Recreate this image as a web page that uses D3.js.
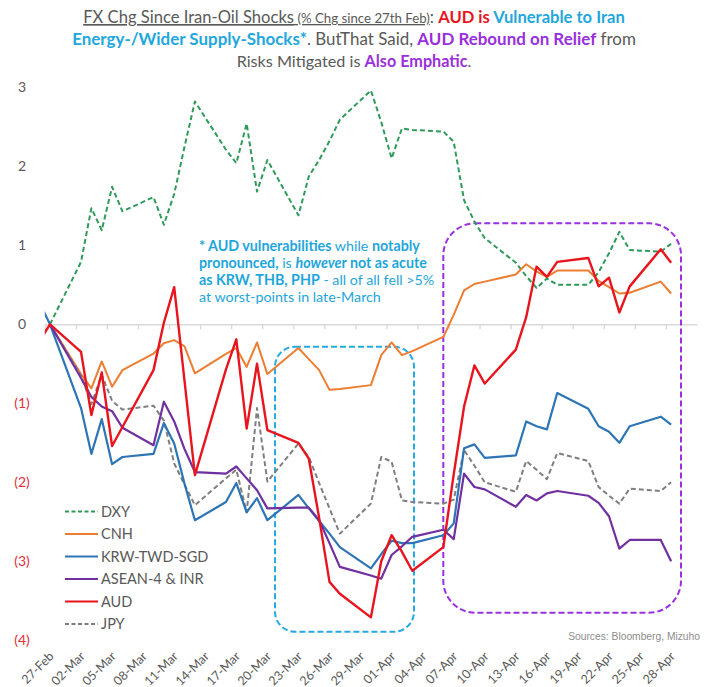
<!DOCTYPE html>
<html>
<head>
<meta charset="utf-8">
<script src="https://cdn.jsdelivr.net/npm/d3@7"></script>
<style>
  body { margin: 0; background: #fff; }
  svg { display: block; font-family: Lato, 'Open Sans', sans-serif; }
</style>
</head>
<body>
<div id="main"></div>
<script>
// trading days (26-Feb only shows as a clipped stub at the left edge)
const dates = ['2026-02-26','2026-02-27',
  '2026-03-02','2026-03-03','2026-03-04','2026-03-05','2026-03-06',
  '2026-03-09','2026-03-10','2026-03-11','2026-03-12','2026-03-13',
  '2026-03-16','2026-03-17','2026-03-18','2026-03-19','2026-03-20',
  '2026-03-23','2026-03-24','2026-03-25','2026-03-26','2026-03-27',
  '2026-03-30','2026-03-31','2026-04-01','2026-04-02','2026-04-03',
  '2026-04-06','2026-04-07','2026-04-08','2026-04-09','2026-04-10',
  '2026-04-13','2026-04-14','2026-04-15','2026-04-16','2026-04-17',
  '2026-04-20','2026-04-21','2026-04-22','2026-04-23','2026-04-24',
  '2026-04-27','2026-04-28']

const dxy = [null, 0,
  0.79, 1.47, 1.19, 1.74, 1.43,
  1.61, 1.26, 1.65, 2.25, 2.82,
  2.21, 2.04, 2.54, 1.68, 2.08,
  1.38, 1.87, 2.08, 2.32, 2.59,
  2.96, 2.56, 2.10, 2.48, 2.46,
  2.44, 2.31, 1.57, 1.30, 1.09,
  0.78, 0.61, 0.46, 0.58, 0.50,
  0.50, 0.66, 0.90, 1.17, 0.94,
  0.92, 1.02]

const cnh = [null, 0,
  -0.63, -0.81, -0.47, -0.79, -0.58,
  -0.37, -0.24, -0.20, -0.28, -0.62,
  -0.375, -0.30, -0.54, -0.23, -0.63,
  -0.30, -0.44, -0.58, -0.83, -0.82,
  -0.77, -0.39, -0.23, -0.39, -0.34,
  -0.16, 0.12, 0.43, 0.51, 0.54,
  0.63, 0.76, 0.67, 0.60, 0.68,
  0.68, 0.55, 0.47, 0.39, 0.40,
  0.54, 0.39]

const krwTwdSgd = [0.27, 0,
  -1.06, -1.64, -1.20, -1.77, -1.68,
  -1.64, -1.25, -1.51, -2.02, -2.48,
  -2.25, -2.01, -2.38, -2.20, -2.48,
  -2.16, -2.33, -2.49, -2.65, -2.82,
  -3.09, -2.91, -2.74, -2.77, -2.77,
  -2.67, -2.52, -1.57, -1.52, -1.69,
  -1.66, -1.23, -1.29, -1.33, -0.87,
  -1.07, -1.29, -1.36, -1.50, -1.29,
  -1.17, -1.27]

const asean4Inr = [null, 0,
  -0.68, -0.92, -1.04, -1.10, -1.31,
  -1.53, -0.98, -1.23, -1.58, -1.87,
  -1.89, -1.80, -1.95, -2.10, -2.33,
  -2.32, -2.32, -2.48, -2.77, -3.07,
  -3.18, -3.22, -2.92, -2.81, -2.69,
  -2.60, -2.72, -1.89, -2.06, -2.09,
  -2.31, -2.16, -2.23, -2.14, -2.11,
  -2.17, -2.26, -2.43, -2.84, -2.73,
  -2.73, -3.00]

const aud = [-0.21, 0,
  -0.35, -1.15, -0.61, -1.54, -1.30,
  -0.58, 0.02, 0.47, -0.72, -1.91,
  -0.57, -0.19, -1.32, -0.50, -1.34,
  -1.50, -1.70, -2.45, -3.26, -3.41,
  -3.71, -3.00, -2.67, -2.88, -3.12,
  -2.82, -1.90, -1.04, -0.52, -0.75,
  -0.32, 0.09, 0.73, 0.60, 0.79,
  0.84, 0.48, 0.59, 0.15, 0.48,
  0.95, 0.78]

const jpy = [null, 0,
  -0.65, -1.01, -0.64, -0.97, -1.08,
  -1.03, -1.22, -1.76, -2.03, -2.29,
  -1.95, -1.84, -2.38, -1.06, -1.99,
  -1.51, -1.68, -2.01, -2.33, -2.65,
  -2.27, -1.68, -1.74, -2.23, -2.25,
  -2.27, -2.22, -1.59, -1.79, -2.00,
  -2.12, -1.73, -1.84, -1.96, -1.63,
  -1.73, -2.06, -2.17, -2.27, -2.08,
  -2.11, -2.00]

const seriesNames = ['DXY', 'CNH', 'KRW-TWD-SGD', 'ASEAN-4 & INR', 'AUD', 'JPY']
const seriesValues = [dxy, cnh, krwTwdSgd, asean4Inr, aud, jpy]

const xTickLabels = ['27-Feb','02-Mar','05-Mar','08-Mar','11-Mar','14-Mar','17-Mar','20-Mar',
  '23-Mar','26-Mar','29-Mar','01-Apr','04-Apr','07-Apr','10-Apr','13-Apr','16-Apr',
  '19-Apr','22-Apr','25-Apr','28-Apr']
const yTickValues = [-4, -3, -2, -1, 0, 1, 2, 3]

// styles for each series, same order as seriesNames
const colors = ['#2f9a5a', '#ed7d31', '#2e75b6', '#7030a0', '#e8141e', '#7f7f7f']
const dashes = ['5,3', null, null, null, null, '5,3']
const widths = [2, 2, 2.2, 2.2, 2.4, 2]

const w = 712
const h = 687

const parseDay = d3.timeParse('%Y-%m-%d')
const parseLabel = d3.timeParse('%d-%b-%Y')
const mid = d => d3.timeHour.offset(d, 12)     // points sit in the middle of their day

const svg = d3.select('#main').append('svg').attr('width', w).attr('height', h)

const x = d3.scaleTime()
    .domain([parseDay('2026-02-27'), parseDay('2026-05-01')])
    .range([44.8, 697])

const y = d3.scaleLinear()
    .domain([-4, 3])
    .range([640.3, 87.3])

const tickDates = xTickLabels.map(s => parseLabel(s + '-2026'))

// zero line with small ticks
svg.append('g')
    .attr('transform', 'translate(0,' + y(0) + ')')
    .call(d3.axisBottom(x).tickValues(tickDates).tickSize(5).tickSizeOuter(0).tickFormat(''))
    .call(g => g.selectAll('path, line').attr('stroke', '#d9d9d9').attr('stroke-width', 1.4))

// date labels along the bottom
svg.append('g')
    .attr('transform', 'translate(0,654)')
    .call(d3.axisBottom(x).tickValues(tickDates.map(mid)).tickSize(0).tickFormat((d, i) => xTickLabels[i]))
    .call(g => g.select('.domain').remove())
    .call(g => g.selectAll('text')
        .attr('x', 0).attr('y', 0).attr('dy', '0.35em')
        .attr('text-anchor', 'end')
        .attr('transform', 'translate(1,0) rotate(-45)')
        .attr('fill', '#595959')
        .style('font-size', '12.5px')
        .style('font-family', 'Lato, sans-serif'))

// y labels, negatives in brackets and red
svg.append('g')
    .attr('transform', 'translate(22,0)')
    .call(d3.axisLeft(y).tickValues(yTickValues).tickSize(0).tickFormat(v => v < 0 ? '(' + (-v) + ')' : v))
    .call(g => g.select('.domain').remove())
    .call(g => g.selectAll('text')
        .attr('x', 0)
        .attr('text-anchor', 'middle')
        .attr('fill', v => v < 0 ? '#e0303a' : '#595959')
        .style('font-size', '14px')
        .style('font-family', 'Lato, sans-serif'))

// annotation boxes
svg.append('rect')
    .attr('x', 275).attr('y', 346.7).attr('width', 139).attr('height', 285).attr('rx', 20)
    .attr('fill', 'none').attr('stroke', '#27a9e1').attr('stroke-width', 2).attr('stroke-dasharray', '6,3')

svg.append('rect')
    .attr('x', 443.3).attr('y', 223.3).attr('width', 237.7).attr('height', 389.4).attr('rx', 32)
    .attr('fill', 'none').attr('stroke', '#9b30e0').attr('stroke-width', 2).attr('stroke-dasharray', '6,3')

// lines
svg.append('clipPath').attr('id', 'plot-clip')
    .append('rect').attr('x', 44.8).attr('y', 0).attr('width', 653).attr('height', h)

const line = d3.line()
    .defined(d => d.v != null)
    .x(d => x(mid(parseDay(d.date))))
    .y(d => y(d.v))

const drawOrder = [0, 1, 5, 2, 3, 4]     // AUD on top
drawOrder.forEach(i => {
    const pts = dates.map((date, j) => ({ date: date, v: seriesValues[i][j] }))
    svg.append('path')
        .datum(pts)
        .attr('clip-path', 'url(#plot-clip)')
        .attr('d', line)
        .attr('fill', 'none')
        .attr('stroke', colors[i])
        .attr('stroke-width', widths[i])
        .attr('stroke-linejoin', 'round')
        .attr('stroke-dasharray', dashes[i])
})

// legend
const legend = svg.append('g').attr('transform', 'translate(65,511.5)')
seriesNames.forEach((name, i) => {
    const row = legend.append('g').attr('transform', 'translate(0,' + (i * 22.5) + ')')
    row.append('line')
        .attr('x1', 0).attr('x2', 33).attr('y1', 0).attr('y2', 0)
        .attr('stroke', colors[i]).attr('stroke-width', 2.2)
        .attr('stroke-dasharray', dashes[i] ? '4,2.5' : null)
    row.append('text')
        .attr('x', 36).attr('dy', '0.35em')
        .attr('fill', '#595959')
        .style('font-size', '14.5px')
        .text(name)
})

// helper: scale a text's font so it spans the wanted width
function fitWidth(textSel, target) {
    const size = parseFloat(textSel.style('font-size'))
    const len = textSel.node().getComputedTextLength()
    textSel.style('font-size', (size * target / len) + 'px')
}

// title
const grey = '#595959', red = '#e8141e', cyan = '#22a7dd', purple = '#9a2fdc'
const titleLines = [
    [['FX Chg Since Iran-Oil Shocks', grey, 'normal', 'underline'],
     [' (% Chg since 27th Feb)', grey, 'normal', 'underline', '0.8em'],
     [': ', grey, 'normal'],
     ['AUD is', red, 'bold'],
     [' Vulnerable to Iran', cyan, 'bold']],
    [['Energy-/Wider Supply-Shocks*', cyan, 'bold'],
     ['. ButThat Said, ', grey, 'normal'],
     ['AUD Rebound on Relief', purple, 'bold'],
     [' from', grey, 'normal']],
    [['Risks Mitigated is ', grey, 'normal'],
     ['Also Emphatic', purple, 'bold'],
     ['.', grey, 'normal']]
]
const titleWidths = [542, 564, 235]
titleLines.forEach((parts, i) => {
    const t = svg.append('text')
        .attr('x', 354).attr('y', 23 + i * 22)
        .attr('text-anchor', 'middle')
        .style('font-size', '15px')
    parts.forEach(p => {
        t.append('tspan')
            .attr('fill', p[1])
            .attr('font-weight', p[2])
            .attr('text-decoration', p[3] || null)
            .attr('font-size', p[4] || null)
            .text(p[0])
    })
    fitWidth(t, titleWidths[i])
})

// note inside the chart
const noteLines = [
    [['* AUD vulnerabilities', 'bold'], [' while ', 'normal'], ['notably', 'bold']],
    [['pronounced,', 'bold'], ['  is ', 'normal'], ['howeve', 'bold', 'italic'], ['r not as acute', 'bold']],
    [['as KRW, THB, PHP', 'bold'], [' - all of all fell >5%', 'normal']],
    [['at worst-points in late-March', 'normal']]
]
const noteTexts = noteLines.map((parts, i) => {
    const t = svg.append('text')
        .attr('x', 199).attr('y', 251 + i * 17)
        .attr('fill', '#1ea6dc')
        .style('font-size', '14px')
    parts.forEach(p => {
        t.append('tspan').attr('font-weight', p[1]).attr('font-style', p[2] || null).text(p[0])
    })
    return t
})
const noteScale = 221 / noteTexts[0].node().getComputedTextLength()
noteTexts.forEach(t => t.style('font-size', (14 * noteScale) + 'px'))

// source
const src = svg.append('text')
    .attr('x', 700).attr('y', 640)
    .attr('text-anchor', 'end')
    .attr('fill', '#8c8c8c')
    .style('font-family', "'Liberation Sans Narrow', 'Liberation Sans', sans-serif")
    .style('font-size', '11px')
    .text('Sources: Bloomberg,  Mizuho')
fitWidth(src, 132)
</script>
</body>
</html>
